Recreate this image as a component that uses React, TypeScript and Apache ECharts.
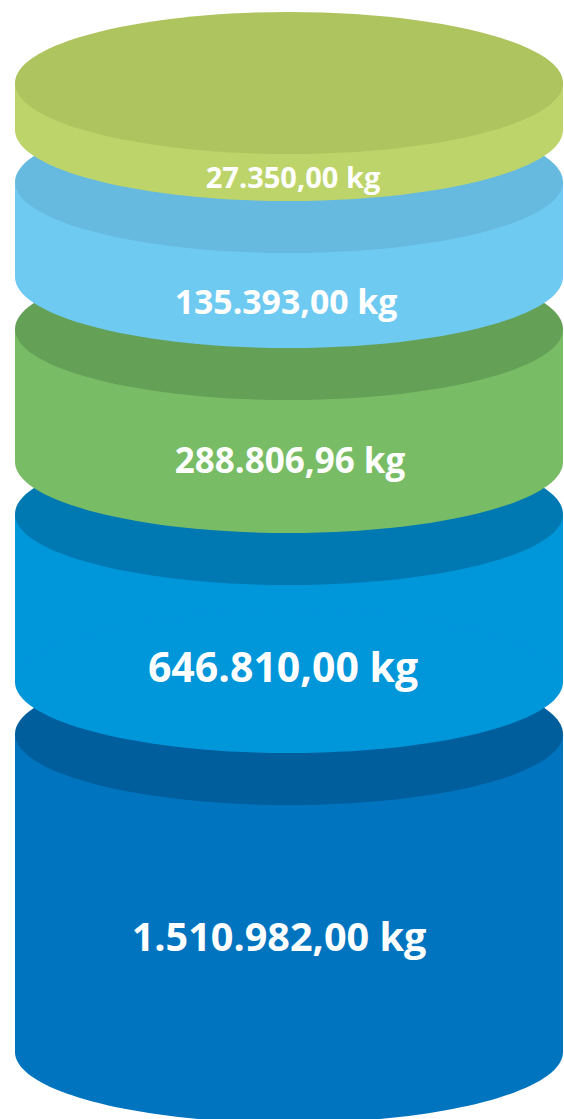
import { useEffect, useRef } from "react";
import * as echarts from "echarts";

// ---- data (top layer first) ----
const categories = ["Stufe 1", "Stufe 2", "Stufe 3", "Stufe 4", "Stufe 5"];
const valuesKg = [27350, 135393, 288806.96, 646810, 1510982];
const sideColors = ["#BCD46A", "#6FCAF2", "#79BC66", "#0096DA", "#0074BF"];
const topColors = ["#AEC45F", "#66BAE0", "#64A157", "#0079B3", "#005E9C"];

// ---- layout (visual, not data) ----
const FIRST_TOP = 83; // layout units along the hidden y axis
const GAP = 52;
const THICKNESS = [47, 95, 133, 168, 318];
const RY = 71;
const LABEL_SHIFT_Y = [-1, 0, -7, -3, -28];
const LABEL_SHIFT_X = [4, -3, 1, -6, -10];
const FONT_SIZES = [29, 33.8, 35, 41, 39.6];
const Y_MAX = 1119;

function formatKg(v: number): string {
  const fixed = v.toFixed(2);
  const [intPart, dec] = fixed.split(".");
  const withDots = intPart.replace(/\B(?=(\d{3})+(?!\d))/g, ".");
  return `${withDots},${dec} kg`;
}

export default function App() {
  const ref = useRef<HTMLDivElement>(null);

  useEffect(() => {
    if (!ref.current) return;
    const chart = echarts.init(ref.current, undefined, { renderer: "svg" });

    const rows: any[] = [];
    let top = FIRST_TOP;
    for (let i = 0; i < valuesKg.length; i++) {
      const bottom = top + THICKNESS[i];
      rows.push({ i, top, bottom });
      top = bottom + GAP;
    }
    // lower layers first so upper layers overlap them
    const data = rows
      .slice()
      .reverse()
      .map((r) => ({
        name: categories[r.i],
        value: [r.i, r.top, r.bottom, valuesKg[r.i]],
      }));

    chart.setOption({
      animation: false,
      backgroundColor: "#ffffff",
      grid: { left: 15, right: 1, top: 0, bottom: 0 },
      xAxis: { type: "value", min: -1, max: 1, show: false },
      yAxis: { type: "value", min: 0, max: Y_MAX, inverse: true, show: false },
      series: [
        {
          type: "custom",
          data,
          clip: false,
          renderItem: (params: any, api: any) => {
            const i = api.value(0);
            const t = api.coord([0, api.value(1)]);
            const b = api.coord([0, api.value(2)]);
            const left = api.coord([-1, 0])[0];
            const right = api.coord([1, 0])[0];
            const cx = (left + right) / 2;
            const rx = (right - left) / 2;
            const ry = api.size([0, RY])[1];
            const labelY = (t[1] + b[1]) / 2 + ry + LABEL_SHIFT_Y[i];
            return {
              type: "group",
              children: [
                {
                  type: "rect",
                  shape: { x: left, y: t[1], width: rx * 2, height: b[1] - t[1] },
                  style: { fill: sideColors[i] },
                },
                {
                  type: "ellipse",
                  shape: { cx, cy: b[1], rx, ry },
                  style: { fill: sideColors[i] },
                },
                {
                  type: "ellipse",
                  shape: { cx, cy: t[1], rx, ry },
                  style: { fill: topColors[i] },
                },
                {
                  type: "text",
                  x: cx + LABEL_SHIFT_X[i],
                  y: labelY,
                  style: {
                    text: formatKg(api.value(3)),
                    fill: "#ffffff",
                    fontFamily: "Open Sans",
                    fontWeight: "bold",
                    fontSize: FONT_SIZES[i],
                    align: "center",
                    verticalAlign: "middle",
                  },
                },
              ],
            };
          },
        },
      ],
    });
    return () => chart.dispose();
  }, []);

  return (
    <div
      ref={ref}
      style={{ position: "absolute", left: 0, top: 0, width: 564, height: 1119 }}
    />
  );
}
